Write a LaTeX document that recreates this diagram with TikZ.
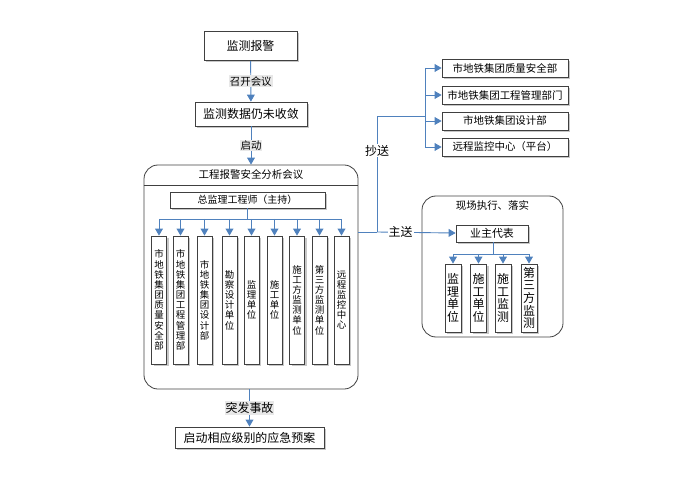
\documentclass[tikz,border=0pt]{standalone}
\usepackage{fontspec}
\setmainfont{Noto Sans CJK SC}
\usetikzlibrary{arrows}
\usetikzlibrary{positioning, shadows}
\definecolor{linkblue}{RGB}{79,129,189}

\begin{document}
\begin{tikzpicture}[x=1bp,y=-1bp]
\tikzset{
  box/.style={draw=black!75, fill=white, line width=0.8bp, inner sep=1bp,
    drop shadow={shadow xshift=2bp, shadow yshift=-2bp, fill=black!22, opacity=1}},
  hbox/.style={box, font=\fontsize{12}{14}\selectfont},
  sbox/.style={box, minimum width=126bp, minimum height=18bp, font=\fontsize{10.5}{12}\selectfont},
  vbox/.style={box, align=center, minimum width=15bp, minimum height=128bp, font=\fontsize{9.5}{10.2}\selectfont},
  wbox/.style={box, align=center, minimum width=16bp, minimum height=68bp, font=\fontsize{12}{12.7}\selectfont},
  panel/.style={draw=black!75, line width=0.8bp, rounded corners=14bp},
  link/.style={draw=linkblue, line width=0.9bp},
  arr/.style={link, -triangle 60},
  tag/.style={fill=black!9, inner sep=1bp, font=\fontsize{10.5}{12}\selectfont},
  wtag/.style={fill=white, inner sep=1bp, font=\fontsize{12}{14}\selectfont}
}
\useasboundingbox (0,0) rectangle (683,485);

% main column
\node[hbox, minimum width=93bp, minimum height=29bp] (alarm) at (250.5,46) {监测报警};
\node[hbox, minimum width=112bp, minimum height=24bp] (notconv) at (251,114) {监测数据仍未收敛};
\node[panel, minimum width=214bp, minimum height=224bp] (meet) at (251,277) {};
\node[hbox, minimum width=149bp, minimum height=21bp] (plan) at (249.5,437.5) {启动相应级别的应急预案};

\draw[arr] (alarm) -- node[tag] {召开会议} (notconv);
\draw[arr] (notconv) -- node[tag] {启动} (notconv |- meet.north);
\draw[arr] (plan |- meet.south) -- node[tag, font=\fontsize{12}{14}\selectfont] {突发事故} (plan);

% meeting panel
\coordinate (hdr) at (251,185);
\draw[panel] (meet.west |- hdr) -- (meet.east |- hdr);
\node[font=\fontsize{10.5}{12}\selectfont] (meettitle) at (251,175) {工程报警安全分析会议};
\node[box, minimum width=155bp, minimum height=16bp, font=\fontsize{10}{12}\selectfont] (chief) at (247.5,200) {总监理工程师（主持）};

\node[vbox] (v1) at (159,300) {市\\地\\铁\\集\\团\\质\\量\\安\\全\\部};
\node[vbox] (v2) at (180.5,300) {市\\地\\铁\\集\\团\\工\\程\\管\\理\\部};
\node[vbox] (v3) at (204.5,300) {市\\地\\铁\\集\\团\\设\\计\\部};
\node[vbox] (v4) at (229.5,300) {勘\\察\\设\\计\\单\\位};
\node[vbox] (v5) at (251.5,300) {监\\理\\单\\位};
\node[vbox] (v6) at (274.5,300) {施\\工\\单\\位};
\node[vbox] (v7) at (297,300) {施\\工\\方\\监\\测\\单\\位};
\node[vbox] (v8) at (319.5,300) {第\\三\\方\\监\\测\\单\\位};
\node[vbox] (v9) at (341.5,300) {远\\程\\监\\控\\中\\心};

\coordinate (fork) at (247.5,219);
\draw[link] (chief) -- (fork);
\draw[link] (fork -| v1) -- (fork -| v9);
\draw[arr] (fork -| v1) -- (v1);
\draw[arr] (fork -| v2) -- (v2);
\draw[arr] (fork -| v3) -- (v3);
\draw[arr] (fork -| v4) -- (v4);
\draw[arr] (fork -| v5) -- (v5);
\draw[arr] (fork -| v6) -- (v6);
\draw[arr] (fork -| v7) -- (v7);
\draw[arr] (fork -| v8) -- (v8);
\draw[arr] (fork -| v9) -- (v9);

% copies
\node[sbox] (r1) at (505,68) {市地铁集团质量安全部};
\node[sbox] (r2) at (505,95) {市地铁集团工程管理部门};
\node[sbox] (r3) at (505,121) {市地铁集团设计部};
\node[sbox] (r4) at (505,147) {远程监控中心（平台）};

\coordinate (split) at (377,232);
\coordinate (cc) at (377,116);
\coordinate (bus) at (425,116);
\draw[link] (meet.east |- split) -- (split);
\draw[link] (split) -- node[wtag, pos=0.7] {抄送} (cc) -- (bus);
\draw[link] (bus |- r1) -- (bus |- r4);
\draw[arr] (bus |- r1) -- (r1);
\draw[arr] (bus |- r2) -- (r2);
\draw[arr] (bus |- r3) -- (r3);
\draw[arr] (bus |- r4) -- (r4);

% site panel
\node[panel, minimum width=141bp, minimum height=141bp] (site) at (492.5,266.5) {};
\node[font=\fontsize{10.5}{12}\selectfont] (sitetitle) at (492.5,206) {现场执行、落实};
\node[box, minimum width=72bp, minimum height=17bp, font=\fontsize{11}{12}\selectfont] (owner) at (492,233.5) {业主代表};
\draw[arr] (split) -- node[wtag, pos=0.3] {主送} (owner);

\node[wbox] (w1) at (453,298) {监\\理\\单\\位};
\node[wbox] (w2) at (478.5,298) {施\\工\\单\\位};
\node[wbox] (w3) at (503,298) {施\\工\\监\\测};
\node[wbox] (w4) at (529,298) {第\\三\\方\\监\\测};

\coordinate (fork2) at (493,254);
\draw[link] (owner.south -| fork2) -- (fork2);
\draw[link] (fork2 -| w1) -- (fork2 -| w4);
\draw[arr] (fork2 -| w1) -- (w1);
\draw[arr] (fork2 -| w2) -- (w2);
\draw[arr] (fork2 -| w3) -- (w3);
\draw[arr] (fork2 -| w4) -- (w4);
\end{tikzpicture}
\end{document}
